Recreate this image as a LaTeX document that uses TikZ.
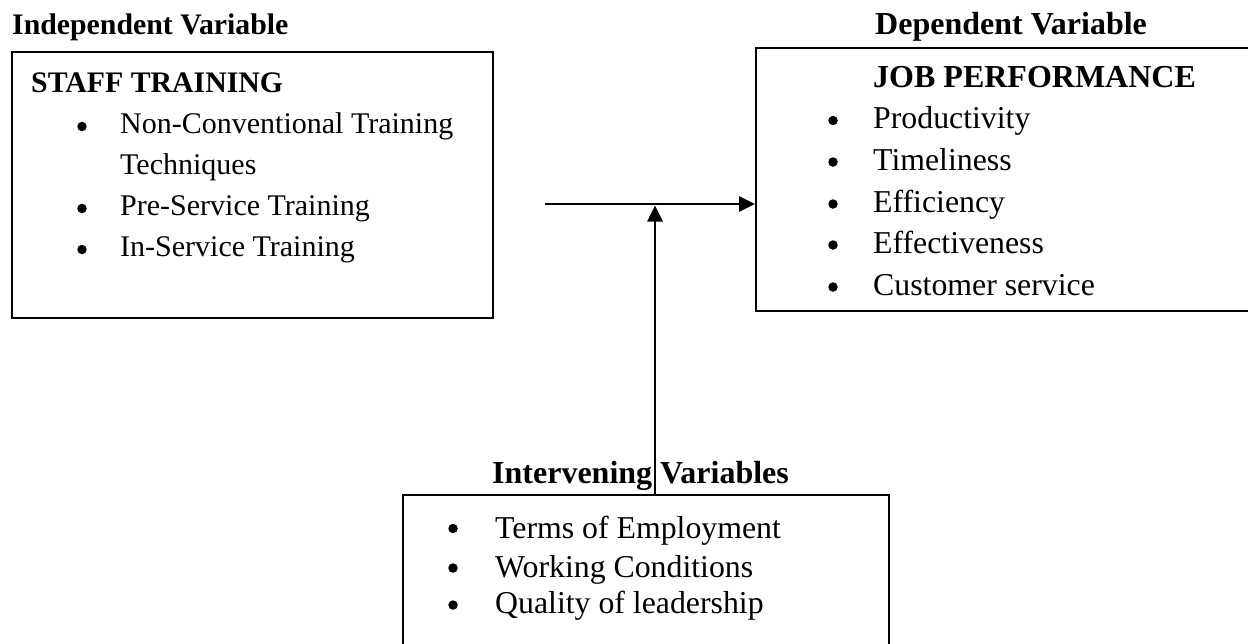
\documentclass[tikz,border=0pt]{standalone}
\usepackage{fontspec}
\setmainfont{Liberation Serif}
\usetikzlibrary{arrows.meta}
\begin{document}
\begin{tikzpicture}[x=1pt,y=-1pt,
  box/.style={draw=black,line width=1.8pt,inner sep=0pt},
  head/.style={anchor=base west,inner sep=0pt,font=\fontsize{29.8}{34}\selectfont\bfseries},
  headb/.style={anchor=base west,inner sep=0pt,font=\fontsize{32}{36}\selectfont\bfseries},
  item/.style={anchor=base west,inner sep=0pt,font=\fontsize{30}{36}\selectfont},
  itemb/.style={anchor=base west,inner sep=0pt,font=\fontsize{31.8}{36}\selectfont},
  bul/.style={circle,fill=black,inner sep=0pt,minimum size=9.5pt},
  conn/.style={line width=2.6pt,-{Triangle[length=16pt,width=15pt]}}]
\useasboundingbox (0,0) rectangle (1248,643);
\clip (0,0) rectangle (1248,643);
% boxes
\node[box,minimum width=481pt,minimum height=266pt] (ind) at (252.5,185) {};
\node[box,minimum width=520pt,minimum height=263pt] (dep) at (1016,179.5) {};
\node[box,minimum width=486pt,minimum height=200pt] (iv) at (646,595) {};
% titles
\node[head] (tind) at (12,34) {Independent Variable};
\node[headb] (tdep) at (875,34) {Dependent Variable};
\node[headb] (tiv) at (492,483) {Intervening Variables};
% left box text
\node[head] (st) at (31,92) {STAFF TRAINING};
\node[bul] (b1) at (82,126.5) {};
\node[item] (i1) at (120,133) {Non-Conventional Training};
\node[item] (i1b) at (120,174) {Techniques};
\node[bul] (b2) at (82,208.5) {};
\node[item] (i2) at (120,215) {Pre-Service Training};
\node[bul] (b3) at (82,249.5) {};
\node[item] (i3) at (120,256) {In-Service Training};
% right box text
\node[headb] (jp) at (873,87) {JOB PERFORMANCE};
\node[bul] (c1) at (833,120.5) {};
\node[itemb] (d1) at (873,128) {Productivity};
\node[bul] (c2) at (833,162) {};
\node[itemb] (d2) at (873,170) {Timeliness};
\node[bul] (c3) at (833,204) {};
\node[itemb] (d3) at (873,212) {Efficiency};
\node[bul] (c4) at (833,245) {};
\node[itemb] (d4) at (873,253) {Effectiveness};
\node[bul] (c5) at (833,287) {};
\node[itemb] (d5) at (873,295) {Customer service};
% bottom box text
\node[bul] (e1) at (453,528.5) {};
\node[itemb] (f1) at (495,538) {Terms of Employment};
\node[bul] (e2) at (453,568) {};
\node[itemb] (f2) at (495,577) {Working Conditions};
\node[bul] (e3) at (453,605) {};
\node[itemb] (f3) at (495,613) {Quality of leadership};
% connectors
\coordinate (s) at (545,204);
\coordinate (j) at (655,205.5);
\draw[conn] (s) -- (s -| dep.west);
\draw[conn] (j |- iv.north) -- (j);
\end{tikzpicture}
\end{document}
